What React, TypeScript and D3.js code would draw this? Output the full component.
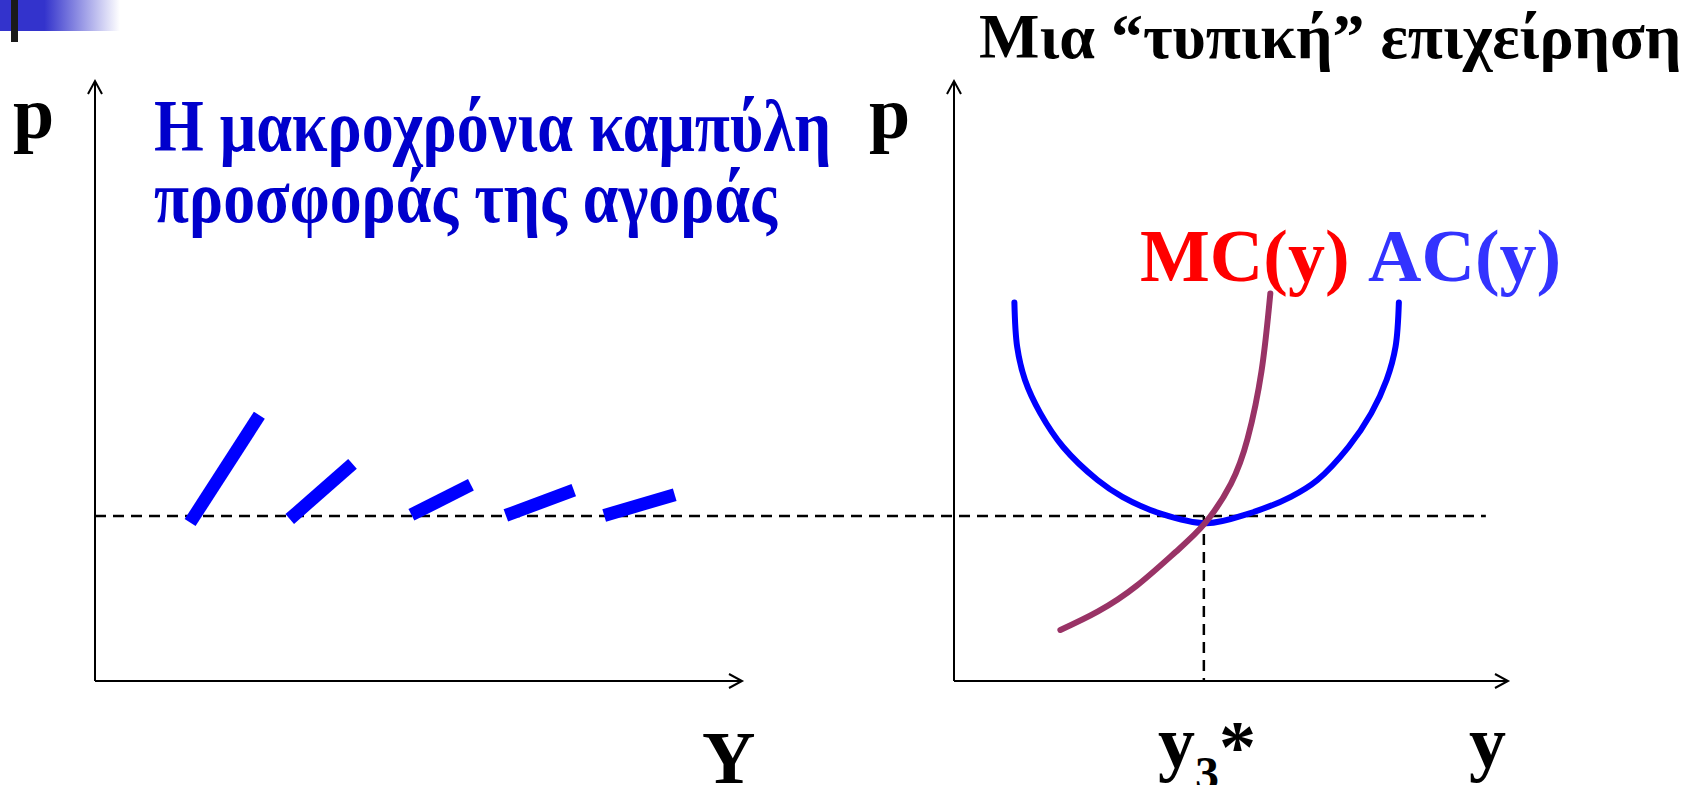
import React from "react";
import { scaleLinear, line, curveCatmullRom, curveNatural } from "d3";

// left panel: market long-run supply pieces (Y, p)
const segQ0 = [14.7, 30.1, 48.9, 63.5, 78.7];
const segP0 = [26.4, 27.0, 27.7, 27.6, 27.6];
const segQ1 = [25.4, 39.8, 58.1, 74.0, 89.6];
const segP1 = [44.3, 36.2, 32.7, 31.8, 31.05];

// right panel: a typical firm
const acQty = [10.9, 11.4, 12.8, 15.6, 19.7, 25.9, 30.4, 37.3, 45.6, 53.2, 60.8, 65.6, 71.2, 75.3, 78.1, 79.7, 80.3];
const acCost = [63.1, 55.7, 50.2, 44.6, 39.0, 33.5, 30.7, 27.9, 26.3, 27.9, 30.7, 33.5, 39.0, 44.6, 50.2, 55.7, 63.1];
const mcQty = [19.2, 26, 33, 40, 45.3, 50, 53, 55.5, 57.1];
const mcCost = [8.5, 11.6, 15.9, 21.5, 26.3, 32.9, 40.4, 51.6, 64.6];

const pMin = 27.5; // min of AC
const yStar = 45.1; // y3*

const leftTitle = ["Η μακροχρόνια καμπύλη", "προσφοράς της αγοράς"];
const rightTitle = "Μια “τυπική” επιχείρηση";

const W = 1692;
const H = 785;
const FONT = "'Liberation Serif', 'Times New Roman', serif";

const xL = scaleLinear().domain([0, 100]).range([95, 742]);
const xR = scaleLinear().domain([0, 100]).range([954, 1508]);
const yP = scaleLinear().domain([0, 100]).range([681, 81]);

function Axes({ x }: { x: typeof xL }) {
  const x0 = x(0);
  const y0 = yP(0);
  const xt = x(100);
  const yt = yP(100);
  return (
    <g stroke="#000" strokeWidth={2} fill="none">
      <line x1={x0} y1={y0} x2={x0} y2={yt} />
      <path d={`M${x0 - 7},${yt + 13}L${x0},${yt}L${x0 + 7},${yt + 13}`} />
      <line x1={x0} y1={y0} x2={xt} y2={y0} />
      <path d={`M${xt - 13},${y0 - 7}L${xt},${y0}L${xt - 13},${y0 + 7}`} />
    </g>
  );
}

export default function App() {
  const pts = (q: number[], c: number[], x: typeof xL) =>
    q.map((v, i) => [x(v), yP(c[i])] as [number, number]);
  const acLine = line().curve(curveCatmullRom.alpha(0.5));
  const mcLine = line().curve(curveNatural);

  return (
    <svg
      width={W}
      height={H}
      style={{ position: "absolute", left: 0, top: 0, background: "#fff" }}
      fontFamily={FONT}
      fontWeight="bold"
    >
      <defs>
        <linearGradient id="band" x1="0" x2="1" y1="0" y2="0">
          <stop offset="0" stopColor="#3333CC" />
          <stop offset="0.37" stopColor="#3333CC" />
          <stop offset="1" stopColor="#3333CC" stopOpacity={0} />
        </linearGradient>
      </defs>
      <rect x={0} y={0} width={120} height={31} fill="url(#band)" />
      <rect x={11} y={0} width={7} height={42} fill="#1a1a1a" />

      <Axes x={xL} />
      <Axes x={xR} />

      {/* dashed guides */}
      <g stroke="#000" strokeWidth={2.5} strokeDasharray="11 7" fill="none">
        <line x1={xL(0)} x2={xR(96)} y1={yP(pMin)} y2={yP(pMin)} />
        <line x1={xR(yStar)} x2={xR(yStar)} y1={yP(pMin)} y2={yP(0)} />
      </g>

      {/* long-run supply pieces */}
      <g stroke="#0000FF" strokeWidth={13}>
        {segQ0.map((q, i) => (
          <line
            key={i}
            x1={xL(q)}
            y1={yP(segP0[i])}
            x2={xL(segQ1[i])}
            y2={yP(segP1[i])}
          />
        ))}
      </g>

      <path
        d={acLine(pts(acQty, acCost, xR)) || ""}
        fill="none"
        stroke="#0000FF"
        strokeWidth={6}
        strokeLinecap="round"
      />
      <path
        d={mcLine(pts(mcQty, mcCost, xR)) || ""}
        fill="none"
        stroke="#993366"
        strokeWidth={6}
        strokeLinecap="round"
      />

      {/* texts */}
      <g fontSize={74}>
        <text x={13} y={138}>p</text>
        <text x={869} y={138}>p</text>
        <text fill="#0000CC">
          <tspan x={154} y={151} textLength={677} lengthAdjust="spacingAndGlyphs">
            {leftTitle[0]}
          </tspan>
          <tspan x={154} y={222} textLength={623} lengthAdjust="spacingAndGlyphs">
            {leftTitle[1]}
          </tspan>
        </text>
        <text x={1140} y={281} fill="#FF0000">MC(y)</text>
        <text x={1368} y={281} fill="#3333FF">AC(y)</text>
        <text x={702} y={783}>Y</text>
        <text x={1158} y={767}>
          y<tspan fontSize={48} y={790}>3</tspan>
          <tspan y={772}>*</tspan>
        </text>
        <text x={1469} y={767}>y</text>
      </g>
      <text x={979} y={58} fontSize={64}>{rightTitle}</text>
    </svg>
  );
}
